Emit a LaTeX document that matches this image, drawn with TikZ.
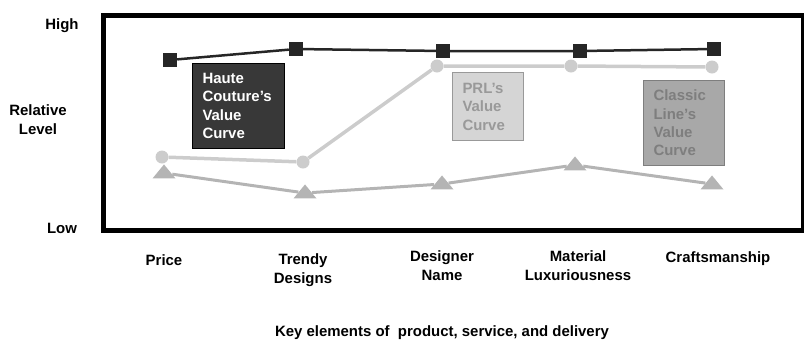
\documentclass[tikz,border=0pt]{standalone}
\usepackage{fontspec}
\setmainfont{Liberation Sans}
\usepackage{tikz}
\usetikzlibrary{shapes}
\usetikzlibrary{shapes.geometric}
\usetikzlibrary{positioning}
\usetikzlibrary{backgrounds}
\definecolor{hcdark}{HTML}{262626}
\definecolor{hcbox}{HTML}{383838}
\definecolor{prlgray}{HTML}{CCCCCC}
\definecolor{prlbox}{HTML}{D5D5D5}
\definecolor{prltext}{HTML}{999999}
\definecolor{clgray}{HTML}{B4B4B4}
\definecolor{clbox}{HTML}{A8A8A8}
\definecolor{cltext}{HTML}{7E7E7E}
\tikzstyle{frame} = [draw, line width=5bp]
\tikzstyle{labeltext} = [font=\bfseries\fontsize{15}{19}\selectfont,
  align=center, inner sep=0pt]
\tikzstyle{hcmark} = [fill=hcdark, minimum size=14bp, inner sep=0pt]
\tikzstyle{prlmark} = [circle, fill=prlgray, minimum size=13bp, inner sep=0pt]
\tikzstyle{clmark} = [isosceles triangle, isosceles triangle stretches,
  shape border rotate=90, fill=clgray, minimum width=23bp,
  minimum height=14bp, inner sep=0pt]
\tikzstyle{hcline} = [draw, line width=2.5bp, hcdark]
\tikzstyle{prlline} = [draw, line width=3.5bp, prlgray]
\tikzstyle{clline} = [draw, line width=3bp, clgray]
\tikzstyle{legend} = [draw, line width=1bp, anchor=north west, align=left,
  font=\bfseries\fontsize{15}{18.5}\selectfont, inner xsep=10bp,
  inner ysep=0pt]
\newcommand{\hcpoint}[1]{node (hc#1) [hcmark] {}}
\newcommand{\prlpoint}[1]{node (prl#1) [prlmark] {}}
\newcommand{\clpoint}[1]{node (cl#1) [clmark] {}}
\newcommand{\xlabel}[2]{node (x#1) [labeltext] {#2}}

\begin{document}
\begin{tikzpicture}[x=1bp,y=-1bp]
    \useasboundingbox (0,0) rectangle (804,340);
    \draw [frame] (103,15) rectangle (803,230);

    % Draw axis labels
    \path (62,26) node (high) [labeltext] {High};
    \path (38,120) node (level) [labeltext] {Relative\\Level};
    \path (62,228) node (low) [labeltext] {Low};
    \path (164,260) \xlabel{1}{Price};
    \path (303,270) \xlabel{2}{Trendy\\Designs};
    \path (442,266) \xlabel{3}{Designer\\Name};
    \path (578,266) \xlabel{4}{Material\\Luxuriousness};
    \path (718,259) \xlabel{5}{Craftsmanship};
    \path (442,333) node (key) [labeltext]
      {Key elements of\ \ product, service, and delivery};

    % Draw value curve points
    \path (170,60) \hcpoint{1};
    \path (296,49) \hcpoint{2};
    \path (443,51) \hcpoint{3};
    \path (580,51) \hcpoint{4};
    \path (714,49) \hcpoint{5};
    \path (162,157) \prlpoint{1};
    \path (303,162) \prlpoint{2};
    \path (437,66) \prlpoint{3};
    \path (571,66) \prlpoint{4};
    \path (712,67) \prlpoint{5};
    \path (164,173) \clpoint{1};
    \path (305,193) \clpoint{2};
    \path (442,184) \clpoint{3};
    \path (575,165) \clpoint{4};
    \path (712,184) \clpoint{5};

    % Draw legend boxes
    \path (192,63) node (haute) [legend, fill=hcbox, text=white,
      text width=72bp, minimum height=85bp]
      {Haute\\Couture's\\Value\\Curve};
    \path (452,72) node (prl) [legend, draw=prltext, fill=prlbox,
      text=prltext, text width=51bp, minimum height=68bp]
      {PRL's\\Value\\Curve};
    \path (643,80) node (classic) [legend, draw=cltext, fill=clbox,
      text=cltext, text width=61bp, minimum height=85bp]
      {Classic\\Line's\\Value\\Curve};

    % Draw curves between points
    \begin{scope}[on background layer]
      \path [clline] (cl1) -- (cl2) -- (cl3) -- (cl4) -- (cl5);
      \path [prlline] (prl1) -- (prl2) -- (prl3) -- (prl4) -- (prl5);
      \path [hcline] (hc1) -- (hc2) -- (hc3) -- (hc4) -- (hc5);
    \end{scope}

\end{tikzpicture}
\end{document}
